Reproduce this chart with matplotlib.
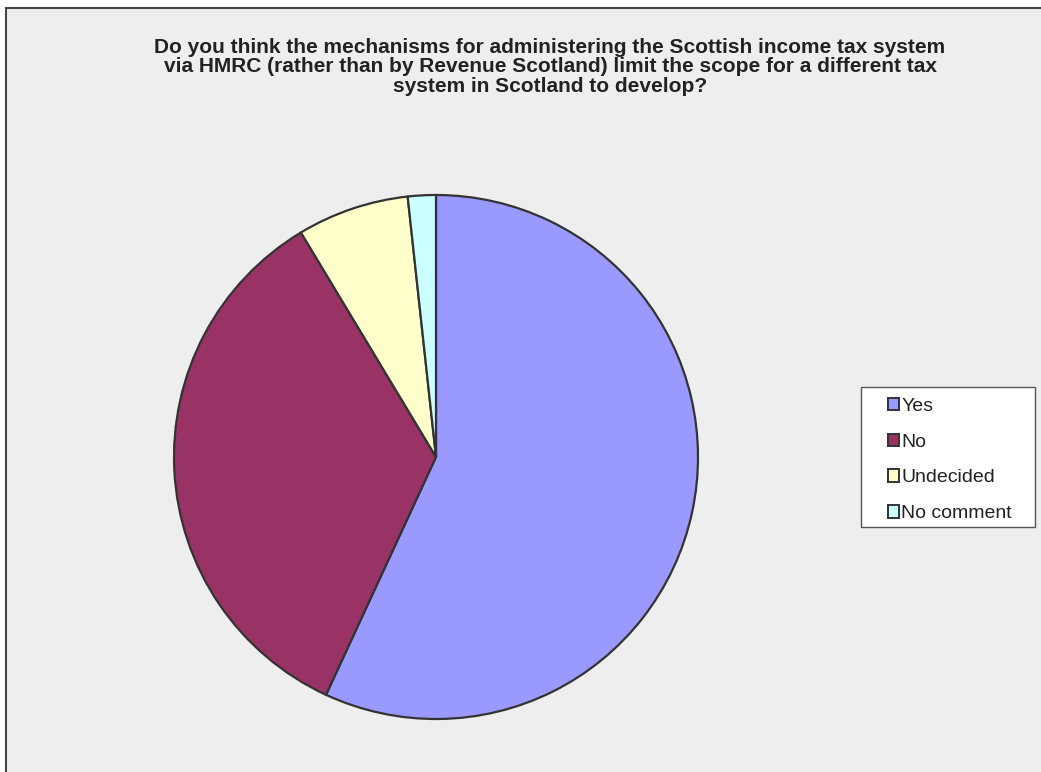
import matplotlib.pyplot as plt
from matplotlib.patches import Rectangle, Patch

labels = ['Yes', 'No', 'Undecided', 'No comment']
responses = [33, 20, 4, 1]
colours = ['#9999FF', '#993366', '#FFFFCC', '#CCFFFF']

title = ('Do you think the mechanisms for administering the Scottish income tax system\n'
         'via HMRC (rather than by Revenue Scotland) limit the scope for a different tax\n'
         'system in Scotland to develop?')

W, H = 1041, 772
fig = plt.figure(figsize=(W / 100, H / 100), dpi=100)
fig.patch.set_facecolor('white')

# chart area background, runs off the right/bottom edge
fig.patches.append(Rectangle((6 / W, -0.1), 1.2, (H - 8) / H + 0.1, transform=fig.transFigure,
                             facecolor='#EEEEEE', edgecolor='#444444', linewidth=1.5, zorder=-5))

fig.text(550 / W, 1 - 38 / H, title, ha='center', va='top', fontsize=15,
         fontweight='bold', family='Liberation Sans', color='#222222', linespacing=1.02)

cx, cy, r = 436, 457, 262
ax = fig.add_axes([(cx - r) / W, (H - cy - r) / H, 2 * r / W, 2 * r / H])
wedges, _ = ax.pie(responses, colors=colours, startangle=90, counterclock=False, radius=1,
                   wedgeprops=dict(edgecolor='#333333', linewidth=1.6))
for w in wedges:
    w.set_clip_on(False)
ax.set_xlim(-1, 1)
ax.set_ylim(-1, 1)
ax.axis('off')

# legend box drawn separately so the padding can be wider than the row gap
fig.patches.append(Rectangle((861 / W, 1 - 527 / H), 174 / W, 140 / H, transform=fig.transFigure,
                             facecolor='white', edgecolor='#555555', linewidth=1.0, zorder=1))
handles = [Patch(facecolor=c, edgecolor='#333333', linewidth=1.4) for c in colours]
leg = fig.legend(handles, labels, loc='upper left', bbox_to_anchor=(876 / W, 1 - 386 / H),
                 frameon=False, labelcolor='#222222',
                 prop=dict(family='Liberation Sans', size=14), handlelength=0.6,
                 handleheight=0.6, handletextpad=0.1, labelspacing=0.97,
                 borderpad=0.6, borderaxespad=0)
leg.set_zorder(2)

fig.savefig('out.png', dpi=100, facecolor='white')
